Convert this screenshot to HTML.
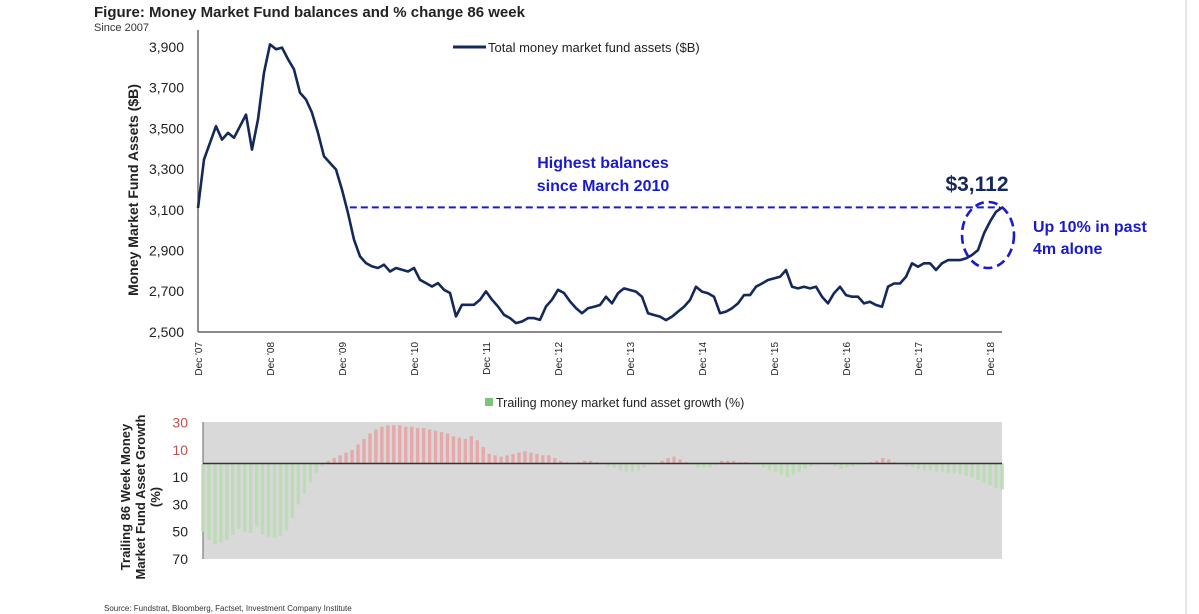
<!DOCTYPE html>
<html><head><meta charset="utf-8"><style>
html,body{margin:0;padding:0;background:#fff;}
svg{display:block;font-family:"Liberation Sans",sans-serif;}
</style></head><body>
<svg id="chart" width="1199" height="614" viewBox="0 0 1199 614">
<text x="94" y="17" font-family="Liberation Sans, sans-serif" font-weight="bold" font-size="15" fill="#222">Figure: Money Market Fund balances and % change 86 week</text>
<text x="94" y="31" font-family="Liberation Sans, sans-serif" font-size="11" fill="#333">Since 2007</text>
<line x1="1186" y1="0" x2="1186" y2="614" stroke="#ccc" stroke-width="1"/>
<g id="top"></g>
<g id="bottom"></g>
<text x="104" y="611" font-family="Liberation Sans, sans-serif" font-size="8" fill="#333">Source: Fundstrat, Bloomberg, Factset, Investment Company Institute</text>
</svg>
<script>
// monthly values, index 0 = Dec 2007
const assets = [3109,3347,3429,3511,3445,3478,3454,3511,3568,3396,3544,3774,3913,3889,3897,3840,3790,3675,3642,3577,3478,3363,3330,3298,3199,3084,2953,2871,2838,2822,2814,2830,2797,2814,2805,2797,2814,2756,2740,2723,2740,2707,2691,2576,2633,2633,2633,2658,2699,2658,2625,2584,2568,2543,2551,2568,2568,2559,2625,2658,2707,2691,2650,2617,2592,
2616,2624,2632,2673,2640,2690,2714,2706,2698,2673,2592,2583,2575,2558,2575,2600,2624,2657,2722,2698,2690,2673,2592,2600,2616,2640,2681,2681,2722,2738,2755,2763,2771,2804,2722,2714,2722,2714,2722,2673,2640,2690,2722,2681,2673,2673,2640,2648,2632,2624,2722,2738,2738,2771,2837,2820,2837,2837,2804,2837,2853,2853,2853,2861,2878,2902,2984,3042,3090,3112];
const growth = [-50,-56,-59,-58,-56,-52,-48,-50,-51,-46,-52,-54,-54,-53,-49,-40,-30,-22,-14,-7,-2,2,4,6,8,10,14,18,22,25,27,28,28,28,27,27,26,26,25,24,23,22,20,19,18,20,17,12,7,6,5,6,7,8,9,8,7,6,6,4,2,1,0,1,2,2,1,0,-2,-3,-5,-6,-6,-5,-3,-1,0,2,4,5,3,1,0,-3,-3,-3,-1,2,2,2,1,1,0,-1,-3,-5,-6,-8,-10,-8,-6,-4,-2,-1,0,0,-2,-4,-3,-2,-1,0,1,2,4,3,1,0,-2,-3,-4,-5,-5,-6,-6,-7,-7,-8,-9,-10,-12,-14,-16,-18,-19];
const yTicks = [3900,3700,3500,3300,3100,2900,2700,2500];
const xLabels = ["Dec '07","Dec '08","Dec '09","Dec '10","Dec '11","Dec '12","Dec '13","Dec '14","Dec '15","Dec '16","Dec '17","Dec '18"];
const gTickLabels = ["30","10","10","30","50","70"];
const gTickValues = [30,10,-10,-30,-50,-70];
const highlightValue = 3112;

const NS="http://www.w3.org/2000/svg";
function mk(parent,tag,attrs,text){const e=document.createElementNS(NS,tag);for(const k in attrs)e.setAttribute(k,attrs[k]);if(text!==undefined)e.textContent=text;parent.appendChild(e);return e;}
const topG=document.getElementById('top'), botG=document.getElementById('bottom');
const x0=198, pxMonth=6;
const xm=m=>x0+m*pxMonth;
const ya=v=>47+(3900-v)/200*40.7;
const ya1=mk(topG,'line',{x1:198,y1:30,x2:198,y2:332,stroke:'#444','stroke-width':1.2});


const xa1=mk(topG,'line',{x1:198,y1:332,x2:1002,y2:332,stroke:'#444','stroke-width':1.2});


yTicks.forEach(v=>{const t=mk(topG,'text',{x:184,y:ya(v)+5,'text-anchor':'end','font-size':14,fill:'#222'},v.toLocaleString('en-US'));

});
xLabels.forEach((l,i)=>{const t=mk(topG,'text',{transform:`translate(${xm(i*12)+4},342) rotate(-90)`,'text-anchor':'end','font-size':10,fill:'#222'},l);

});
const yt=mk(topG,'text',{transform:'translate(138,190) rotate(-90)','text-anchor':'middle','font-size':14,'font-weight':'bold',fill:'#222'},'Money Market Fund Assets ($B)');


const xr=xm(25.3);
const dl=mk(topG,'line',{x1:xr,y1:ya(highlightValue),x2:1000,y2:ya(highlightValue),stroke:'#1a1acc','stroke-width':2,'stroke-dasharray':'7,4'});


const pts=assets.map((v,i)=>xm(i).toFixed(1)+','+ya(v).toFixed(1)).join(' ');
const ln=mk(topG,'polyline',{points:pts,fill:'none',stroke:'#14285a','stroke-width':2.6,'stroke-linejoin':'round'});


const lg=mk(topG,'line',{x1:453,y1:47,x2:486,y2:47,stroke:'#14285a','stroke-width':3});


const lt=mk(topG,'text',{x:488,y:52,'font-size':13,fill:'#222'},'Total money market fund assets ($B)');


const a1=mk(topG,'text',{x:603,y:168,'text-anchor':'middle','font-size':16,'font-weight':'bold',fill:'#1a1acc'},'Highest balances');


const a2=mk(topG,'text',{x:603,y:191,'text-anchor':'middle','font-size':16,'font-weight':'bold',fill:'#1a1acc'},'since March 2010');


const a3=mk(topG,'text',{x:977,y:191,'text-anchor':'middle','font-size':21,'font-weight':'bold',fill:'#14285a'},'$'+highlightValue.toLocaleString('en-US'));


const el=mk(topG,'ellipse',{cx:988,cy:235,rx:26,ry:33,fill:'none',stroke:'#1a1acc','stroke-width':2.6,'stroke-dasharray':'9,5'});


const a4=mk(topG,'text',{x:1033,y:232,'font-size':16,'font-weight':'bold',fill:'#1a1acc'},'Up 10% in past');


const a5=mk(topG,'text',{x:1033,y:254,'font-size':16,'font-weight':'bold',fill:'#1a1acc'},'4m alone');



const gx0=203, gx1=1002, gTop=422, gBot=559, zero=463.5, pxPct=(gBot-zero)/70;
const gm=m=>gx0+m*(gx1-gx0)/134;
const yg=v=>zero-v*pxPct;
const bg=mk(botG,'rect',{x:gx0,y:gTop,width:gx1-gx0,height:gBot-gTop,fill:'#d9d9d9'});


const gl=mk(botG,'line',{x1:gx0,y1:gTop,x2:gx0,y2:gBot,stroke:'#666','stroke-width':1});


growth.forEach((v,i)=>{const y=yg(Math.max(v,0)),h=Math.abs(v)*pxPct;
const r=mk(botG,'rect',{x:gm(i)-1.7,y:y,width:3.4,height:h,fill:v>=0?'#e5a9ab':'#bcdcb6'});

});
const zl=mk(botG,'line',{x1:gx0,y1:zero,x2:gx1,y2:zero,stroke:'#333','stroke-width':1.6});


gTickLabels.forEach((l,i)=>{const t=mk(botG,'text',{x:188,y:yg(gTickValues[i])+5,'text-anchor':'end','font-size':14,fill:i<2?'#c0504d':'#222'},l);

});
const gt1=mk(botG,'text',{transform:'translate(130,497) rotate(-90)','text-anchor':'middle','font-size':13,'font-weight':'bold',fill:'#222'},'Trailing 86 Week Money');


const gt2=mk(botG,'text',{transform:'translate(145,497) rotate(-90)','text-anchor':'middle','font-size':13,'font-weight':'bold',fill:'#222'},'Market Fund Asset Growth');


const gt3=mk(botG,'text',{transform:'translate(160,497) rotate(-90)','text-anchor':'middle','font-size':13,'font-weight':'bold',fill:'#222'},'(%)');


const gs=mk(botG,'rect',{x:485,y:398,width:8,height:8,fill:'#7cc47a'});


const gtl=mk(botG,'text',{x:496,y:407,'font-size':12.5,fill:'#222'},'Trailing money market fund asset growth (%)');


</script>
</body></html>
